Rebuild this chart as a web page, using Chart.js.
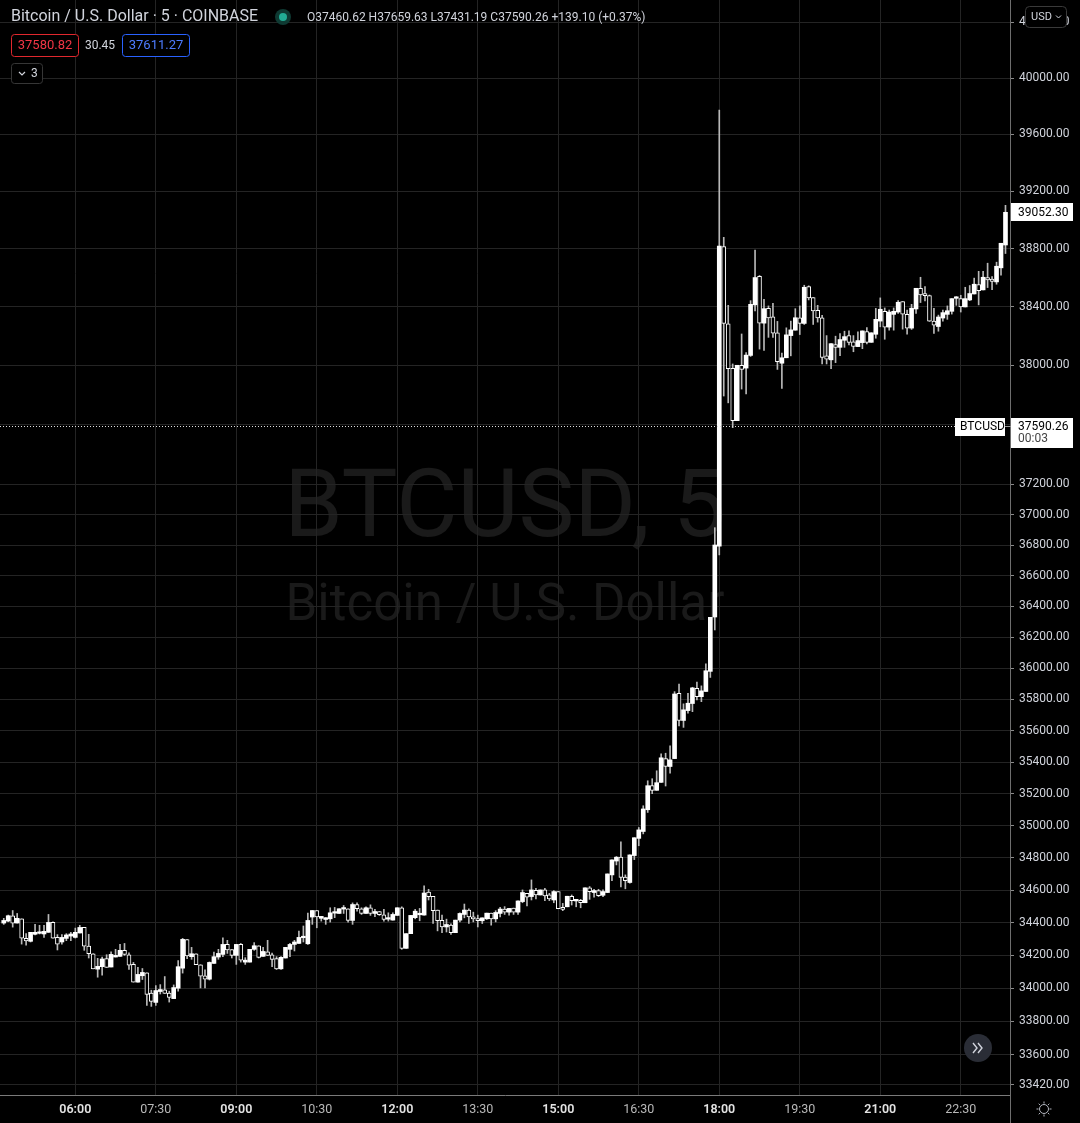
<!DOCTYPE html>
<html>
<head>
<meta charset="utf-8">
<script src="https://cdn.jsdelivr.net/npm/chart.js@4.4.1/dist/chart.umd.min.js"></script>
<style>
  html, body { margin: 0; padding: 0; background: #000; }
  #wrap { width: 1080px; height: 1123px; position: relative; }
  canvas { display: block; }
</style>
</head>
<body>
<div id="wrap"><canvas id="c" width="1080" height="1123"></canvas></div>
<script>
// ---- Data (5-minute candles, BTC/USD, Coinbase) ----
const opens = [34398,34410,34443,34398,34424,34304,34286,34329,34335,34331,34341,34402,34310,34282,34304,34318,34310,34337,34371,34257,
34210,34116,34131,34180,34129,34190,34194,34231,34204,34145,34037,34076,34094,33971,33914,33980,33990,33971,33937,34000,
34122,34296,34192,34210,34143,34076,34055,34151,34190,34206,34267,34235,34200,34267,34159,34159,34237,34259,34194,34222,
34204,34180,34118,34184,34237,34267,34273,34308,34271,34435,34475,34427,34420,34424,34459,34457,34484,34486,34414,34512,
34486,34457,34492,34457,34469,34449,34422,34416,34445,34492,34243,34333,34431,34449,34447,34588,34563,34478,34414,34374,
34385,34339,34416,34451,34478,34436,34426,34412,34424,34459,34424,34457,34484,34465,34490,34465,34530,34581,34561,34600,
34571,34602,34571,34540,34592,34494,34498,34563,34534,34538,34523,34615,34586,34598,34569,34586,34695,34781,34805,34682,
34648,34815,34922,34965,35101,35252,35223,35273,35423,35373,35423,35838,35665,35728,35773,35871,35817,35850,35979,36330,
36793,38814,38283,37979,37626,38000,37981,38067,38412,38609,38287,38389,38331,38221,38014,38051,38202,38239,38324,38285,
38538,38462,38375,38324,38064,38037,38140,38122,38170,38202,38159,38127,38154,38230,38156,38211,38301,38368,38260,38347,
38363,38434,38347,38253,38384,38526,38478,38476,38301,38264,38322,38347,38368,38457,38455,38398,38446,38487,38552,38515,
38600,38589,38570,38667,38825];
const highs = [34427,34447,34475,34457,34424,34333,34341,34390,34384,34384,34451,34406,34327,34327,34333,34341,34367,34384,34371,34329,
34210,34182,34190,34204,34222,34237,34267,34273,34216,34157,34127,34120,34094,33988,34016,34022,34071,33982,34020,34169,
34304,34296,34249,34210,34143,34112,34160,34220,34237,34308,34292,34235,34267,34273,34186,34237,34278,34259,34249,34292,
34214,34192,34192,34249,34273,34292,34349,34380,34459,34475,34475,34439,34431,34492,34494,34486,34506,34486,34522,34522,
34492,34498,34510,34482,34469,34482,34461,34461,34492,34498,34333,34445,34482,34488,34627,34606,34563,34478,34447,34422,
34393,34416,34461,34515,34486,34465,34447,34430,34459,34459,34474,34494,34499,34488,34490,34534,34602,34581,34664,34612,
34602,34612,34581,34598,34592,34519,34563,34571,34544,34544,34615,34623,34606,34606,34602,34701,34788,34809,34901,34695,
34819,34926,34990,35126,35283,35296,35346,35453,35457,35504,35849,35897,35771,35838,35877,35910,35886,36028,36328,36914,
39771,38878,38409,38009,38000,38213,38087,38441,38789,38614,38451,38405,38423,38299,38083,38255,38301,38386,38405,38547,
38543,38462,38409,38340,38202,38147,38198,38216,38232,38234,38202,38228,38234,38257,38221,38388,38460,38391,38377,38391,
38441,38434,38377,38416,38526,38602,38538,38480,38388,38342,38377,38405,38455,38469,38478,38533,38545,38596,38643,38643,
38699,38607,38706,38837,39101];
const lows = [34390,34406,34373,34398,34269,34263,34282,34325,34331,34310,34341,34306,34233,34269,34290,34290,34306,34337,34231,34184,
34118,34067,34080,34127,34129,34190,34194,34200,34114,34037,34037,34053,33896,33890,33896,33965,33969,33916,33937,33982,
34092,34180,34176,34143,34002,34002,34050,34151,34176,34192,34212,34184,34145,34159,34145,34159,34231,34184,34194,34200,
34131,34114,34114,34184,34192,34227,34273,34282,34267,34390,34369,34410,34390,34404,34431,34457,34457,34404,34390,34471,
34451,34457,34445,34437,34445,34410,34410,34416,34445,34237,34243,34333,34424,34412,34447,34540,34395,34350,34339,34343,
34329,34339,34405,34430,34395,34405,34374,34395,34420,34385,34405,34436,34451,34447,34451,34451,34523,34503,34540,34546,
34571,34536,34536,34523,34486,34474,34498,34509,34498,34492,34523,34544,34557,34561,34561,34586,34660,34757,34621,34609,
34644,34790,34876,34950,35084,35202,35223,35273,35250,35331,35423,35631,35621,35712,35721,35796,35785,35850,35940,36246,
36735,37792,37746,37579,37626,37839,37807,38060,38370,38110,38101,38190,38190,37972,37844,38051,38064,38239,38209,38278,
38446,38278,38294,38009,38009,37977,38018,38066,38122,38138,38092,38127,38113,38145,38156,38184,38262,38177,38239,38239,
38354,38246,38211,38244,38354,38428,38439,38299,38216,38232,38301,38313,38349,38409,38363,38398,38441,38487,38412,38515,
38531,38517,38554,38616,38766];
const closes = [34414,34443,34398,34427,34306,34288,34341,34341,34337,34347,34402,34306,34269,34310,34325,34331,34341,34371,34257,34210,
34118,34133,34178,34127,34206,34200,34231,34206,34141,34037,34084,34096,33963,33920,33986,33992,33969,33945,34004,34131,
34298,34196,34210,34143,34073,34055,34157,34192,34212,34267,34233,34200,34267,34171,34171,34237,34259,34188,34224,34200,
34176,34118,34188,34249,34267,34282,34310,34310,34414,34475,34435,34439,34431,34461,34461,34486,34486,34414,34512,34486,
34457,34492,34457,34469,34449,34420,34424,34451,34492,34243,34333,34445,34471,34451,34583,34561,34474,34412,34374,34389,
34339,34416,34457,34478,34436,34424,34412,34430,34459,34424,34463,34484,34465,34488,34465,34534,34586,34557,34602,34571,
34602,34565,34546,34592,34486,34482,34563,34536,34544,34523,34615,34592,34598,34567,34592,34701,34788,34805,34680,34659,
34819,34926,34975,35106,35252,35223,35271,35428,35373,35415,35834,35665,35733,35775,35873,35817,35854,35983,36328,36800,
38818,38285,37977,37626,38000,37972,38069,38416,38600,38287,38386,38322,38218,38025,38051,38207,38241,38324,38285,38533,
38460,38370,38322,38053,38041,38147,38122,38175,38195,38156,38129,38168,38234,38156,38221,38313,38382,38260,38363,38368,
38430,38349,38253,38389,38526,38480,38476,38301,38273,38329,38359,38372,38455,38459,38398,38455,38490,38554,38510,38602,
38584,38573,38678,38837,39052.30];

// time axis: candle index 16 = 06:00, one label every 18 candles (1.5 h)
const timeTickIndex = [16,34,52,70,88,106,124,142,160,178,196,214];
const timeTickLabels = ['06:00','07:30','09:00','10:30','12:00','13:30','15:00','16:30','18:00','19:30','21:00','22:30'];
const priceTicks = [40400,40000,39600,39200,38800,38400,38000,37600,37200,37000,36800,36600,36400,36200,36000,35800,35600,35400,35200,35000,34800,34600,34400,34200,34000,33800,33600,33420];

const currentPrice = 37590.26;
const headerOHLC = { o: '37460.62', h: '37659.63', l: '37431.19', c: '37590.26', chg: '+139.10 (+0.37%)' };
const bidAsk = { bid: '37580.82', spread: '30.45', ask: '37611.27' };

// ---- datasets ----
const idx = opens.map((_, i) => i);
const wickData = idx.map(i => ({ x: i, y: [lows[i], highs[i]] }));
const upData = idx.filter(i => closes[i] >= opens[i]).map(i => ({ x: i, y: [opens[i], closes[i]] }));
const downData = idx.filter(i => closes[i] < opens[i]).map(i => ({ x: i, y: [closes[i], opens[i]] }));

const FONT = 'Roboto, "Noto Sans", sans-serif';

function roundRect(ctx, x, y, w, h, r) {
  ctx.beginPath();
  ctx.moveTo(x + r, y);
  ctx.lineTo(x + w - r, y); ctx.quadraticCurveTo(x + w, y, x + w, y + r);
  ctx.lineTo(x + w, y + h - r); ctx.quadraticCurveTo(x + w, y + h, x + w - r, y + h);
  ctx.lineTo(x + r, y + h); ctx.quadraticCurveTo(x, y + h, x, y + h - r);
  ctx.lineTo(x, y + r); ctx.quadraticCurveTo(x, y, x + r, y);
  ctx.closePath();
}

const bgPlugin = {
  id: 'bg',
  beforeDraw(chart) {
    const ctx = chart.ctx, a = chart.chartArea;
    ctx.save();
    ctx.fillStyle = '#000';
    ctx.fillRect(0, 0, chart.width, chart.height);
    // watermark
    const cx = (a.left + a.right) / 2;
    ctx.fillStyle = '#1a1a1a';
    ctx.textAlign = 'center';
    ctx.textBaseline = 'alphabetic';
    ctx.font = '94px ' + FONT;
    ctx.fillText('BTCUSD, 5', cx, 536);
    ctx.font = '51px ' + FONT;
    ctx.fillText('Bitcoin / U.S. Dollar', cx, 620);
    ctx.restore();
  }
};

const overlayPlugin = {
  id: 'overlay',
  afterDatasetsDraw(chart) {
    const ctx = chart.ctx, a = chart.chartArea, ys = chart.scales.y;
    ctx.save();
    // current price dotted line
    const yc = Math.round(ys.getPixelForValue(currentPrice)) + 0.5;
    ctx.strokeStyle = '#e0e0e0';
    ctx.lineWidth = 1;
    ctx.setLineDash([1, 2]);
    ctx.beginPath(); ctx.moveTo(a.left, yc); ctx.lineTo(955, yc); ctx.stroke();
    ctx.setLineDash([]);
    ctx.restore();
  },
  afterDraw(chart) {
    const ctx = chart.ctx, a = chart.chartArea, ys = chart.scales.y;
    ctx.save();
    // separator in time axis area
    ctx.strokeStyle = '#6e6e6e';
    ctx.lineWidth = 1;
    ctx.beginPath(); ctx.moveTo(a.right + 0.5, a.bottom); ctx.lineTo(a.right + 0.5, chart.height); ctx.stroke();

    // ---- header ----
    ctx.textBaseline = 'middle';
    ctx.textAlign = 'left';
    ctx.fillStyle = '#d1d4dc';
    ctx.font = '16px ' + FONT;
    ctx.fillText('Bitcoin / U.S. Dollar \u00b7 5 \u00b7 COINBASE', 11, 17);
    // status dot
    ctx.fillStyle = '#0f3a33';
    ctx.beginPath(); ctx.arc(283, 17, 8, 0, Math.PI * 2); ctx.fill();
    ctx.fillStyle = '#22ab94';
    ctx.beginPath(); ctx.arc(283, 17, 4, 0, Math.PI * 2); ctx.fill();
    // OHLC
    ctx.font = '12px ' + FONT;
    ctx.fillStyle = '#d1d4dc';
    ctx.fillText('O' + headerOHLC.o + ' H' + headerOHLC.h + ' L' + headerOHLC.l + ' C' + headerOHLC.c + ' ' + headerOHLC.chg, 307, 18);

    // bid / ask boxes
    ctx.lineWidth = 1;
    roundRect(ctx, 11.5, 34.5, 67, 22, 3);
    ctx.fillStyle = '#000'; ctx.fill();
    ctx.strokeStyle = '#e0282e'; ctx.stroke();
    ctx.fillStyle = '#f23645';
    ctx.font = '13px ' + FONT;
    ctx.textAlign = 'center';
    ctx.fillText(bidAsk.bid, 45, 46);
    ctx.fillStyle = '#d1d4dc';
    ctx.font = '12px ' + FONT;
    ctx.fillText(bidAsk.spread, 100, 46);
    roundRect(ctx, 122.5, 34.5, 67, 22, 3);
    ctx.fillStyle = '#000'; ctx.fill();
    ctx.strokeStyle = '#2962ff'; ctx.stroke();
    ctx.fillStyle = '#4d7cff';
    ctx.font = '13px ' + FONT;
    ctx.fillText(bidAsk.ask, 156, 46);
    // collapse box
    roundRect(ctx, 11.5, 63.5, 31, 20, 3);
    ctx.fillStyle = '#000'; ctx.fill();
    ctx.strokeStyle = '#363636'; ctx.stroke();
    ctx.strokeStyle = '#d1d4dc'; ctx.lineWidth = 1.2;
    ctx.beginPath(); ctx.moveTo(19, 72); ctx.lineTo(22, 75); ctx.lineTo(25, 72); ctx.stroke();
    ctx.fillStyle = '#d1d4dc';
    ctx.font = '12px ' + FONT;
    ctx.textAlign = 'left';
    ctx.fillText('3', 31, 74);

    // USD button
    roundRect(ctx, 1025.5, 6.5, 41, 21, 4);
    ctx.fillStyle = '#000'; ctx.fill();
    ctx.strokeStyle = '#3a3a3a'; ctx.lineWidth = 1; ctx.stroke();
    ctx.fillStyle = '#d1d4dc';
    ctx.font = '11px ' + FONT;
    ctx.fillText('USD', 1031, 17);
    ctx.strokeStyle = '#d1d4dc';
    ctx.beginPath(); ctx.moveTo(1056, 15.5); ctx.lineTo(1058.5, 18); ctx.lineTo(1061, 15.5); ctx.stroke();

    // last close label
    const lastClose = closes[closes.length - 1];
    const yl = Math.round(ys.getPixelForValue(lastClose));
    ctx.fillStyle = '#ffffff';
    ctx.fillRect(1011, yl - 9, 62, 18);
    ctx.fillStyle = '#000';
    ctx.font = '12px ' + FONT;
    ctx.fillText(lastClose.toFixed(2), 1018, yl + 0.5);

    // current price labels
    const yp = Math.round(ys.getPixelForValue(currentPrice));
    ctx.fillStyle = '#ffffff';
    ctx.fillRect(955, yp - 8, 50, 18);
    ctx.fillStyle = '#000';
    ctx.fillText('BTCUSD', 960, yp + 1);
    ctx.strokeStyle = '#9a9a9a';
    ctx.beginPath(); ctx.moveTo(1005, yp + 0.5); ctx.lineTo(1011, yp + 0.5); ctx.stroke();
    ctx.fillStyle = '#ffffff';
    ctx.fillRect(1011, yp - 8, 62, 30);
    ctx.fillStyle = '#000';
    ctx.fillText(currentPrice.toFixed(2), 1018, yp + 1);
    ctx.fillStyle = '#444';
    ctx.fillText('00:03', 1018, yp + 13);

    // scroll-to-realtime button
    ctx.fillStyle = '#2a2d36';
    ctx.beginPath(); ctx.arc(978, 1048, 14, 0, Math.PI * 2); ctx.fill();
    ctx.strokeStyle = '#d1d4dc'; ctx.lineWidth = 1.4;
    ctx.beginPath();
    ctx.moveTo(973, 1043); ctx.lineTo(977, 1048); ctx.lineTo(973, 1053);
    ctx.moveTo(978, 1043); ctx.lineTo(982, 1048); ctx.lineTo(978, 1053);
    ctx.stroke();

    // settings (sun) icon
    ctx.strokeStyle = '#b2b5be'; ctx.lineWidth = 1;
    ctx.beginPath(); ctx.arc(1044, 1109, 4.5, 0, Math.PI * 2); ctx.stroke();
    for (let k = 0; k < 8; k++) {
      const ang = k * Math.PI / 4;
      ctx.beginPath();
      ctx.moveTo(1044 + Math.cos(ang) * 5.5, 1109 + Math.sin(ang) * 5.5);
      ctx.lineTo(1044 + Math.cos(ang) * 7.5, 1109 + Math.sin(ang) * 7.5);
      ctx.stroke();
    }
    ctx.restore();
  }
};

const ctx = document.getElementById('c').getContext('2d');
new Chart(ctx, {
  type: 'bar',
  data: {
    datasets: [
      { label: 'wick', data: wickData, backgroundColor: '#b8b8b8', barThickness: 1, grouped: false, order: 3, minBarLength: 1, borderWidth: 0 },
      { label: 'up', data: upData, backgroundColor: '#ffffff', borderColor: '#ffffff', borderWidth: 0, barThickness: 4, grouped: false, order: 1, minBarLength: 1.5 },
      { label: 'down', data: downData, backgroundColor: '#000000', borderColor: '#ffffff', borderWidth: 1, borderSkipped: false, barThickness: 4, grouped: false, order: 2, minBarLength: 2 }
    ]
  },
  options: {
    responsive: false,
    animation: false,
    devicePixelRatio: 1,
    layout: { padding: 0 },
    plugins: { legend: { display: false }, tooltip: { enabled: false } },
    scales: {
      x: {
        type: 'linear',
        min: -0.84,
        max: 225.01,
        offset: false,
        grid: { color: '#242424', drawTicks: false, lineWidth: 1, offset: false },
        border: { color: '#7a7a7a' },
        afterBuildTicks: s => { s.ticks = timeTickIndex.map(v => ({ value: v })); },
        afterFit: s => { s.height = 28; s.paddingLeft = 0; s.paddingRight = 0; },
        ticks: {
          autoSkip: false, maxRotation: 0, padding: 7,
          callback: (v, i) => timeTickLabels[i],
          color: c => (timeTickLabels[c.index] || '').endsWith(':00') ? '#e3e3e3' : '#b9b9b9',
          font: c => ({ family: FONT, size: 12.5, weight: (timeTickLabels[c.index] || '').endsWith(':00') ? '600' : '400' })
        }
      },
      y: {
        type: 'logarithmic',
        position: 'right',
        min: 33358,
        max: 40561,
        grid: { color: '#242424', tickColor: '#8a8a8a', tickLength: 4, lineWidth: 1 },
        border: { color: '#6e6e6e' },
        afterBuildTicks: s => { s.ticks = priceTicks.map(v => ({ value: v })); },
        afterFit: s => { s.width = 70; s.paddingTop = 0; s.paddingBottom = 0; },
        ticks: {
          autoSkip: false, padding: 5, color: '#d1d4dc',
          font: { family: FONT, size: 12 },
          callback: v => Number(v).toFixed(2)
        }
      }
    }
  },
  plugins: [bgPlugin, overlayPlugin]
});
</script>
</body>
</html>
